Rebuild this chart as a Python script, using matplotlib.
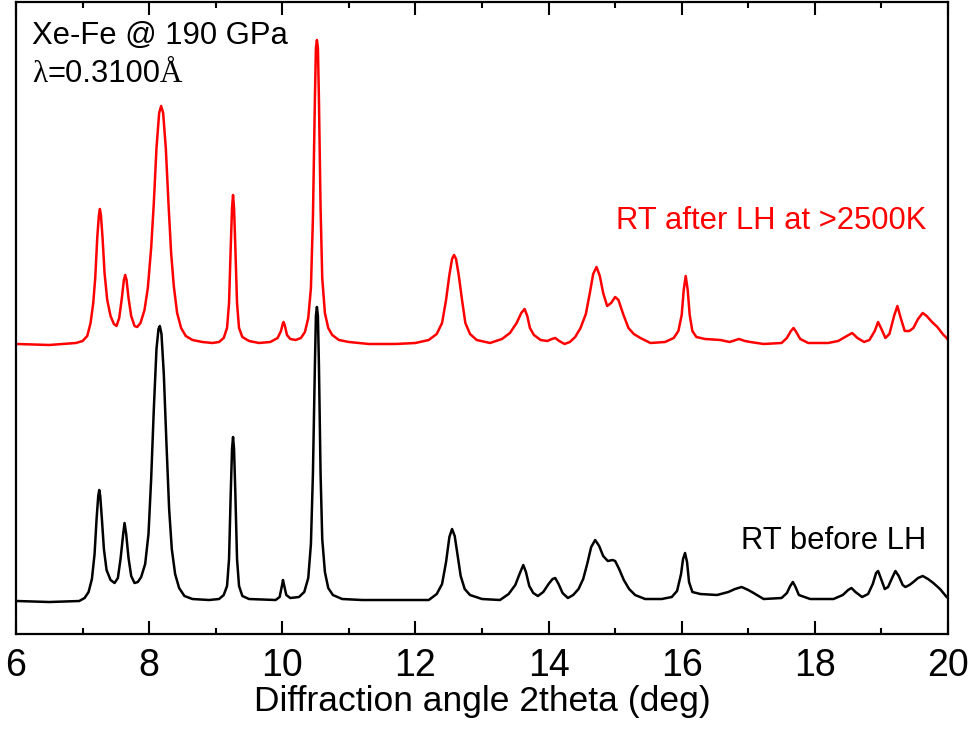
import numpy as np
import matplotlib.pyplot as plt
from matplotlib.ticker import MultipleLocator

# Diffraction patterns, Xe-Fe at 190 GPa (intensity in arbitrary units)
tth_before = [6.015, 6.5, 6.95, 7.03, 7.09, 7.14, 7.18, 7.21, 7.235, 7.25, 7.265, 7.29, 7.32,
              7.36, 7.42, 7.48, 7.53, 7.57, 7.61, 7.63, 7.655, 7.69, 7.73, 7.78, 7.83, 7.88,
              7.94, 7.99, 8.03, 8.07, 8.11, 8.14, 8.16, 8.185, 8.22, 8.26, 8.30, 8.34, 8.39,
              8.45, 8.53, 8.65, 8.9, 9.05, 9.12, 9.17, 9.20, 9.225, 9.245, 9.26, 9.275, 9.295,
              9.32, 9.35, 9.40, 9.5, 9.9, 9.96, 10.0, 10.01, 10.03, 10.06, 10.12, 10.25, 10.33,
              10.39, 10.43, 10.46, 10.49, 10.505, 10.52, 10.535, 10.55, 10.575, 10.60, 10.64,
              10.69, 10.76, 10.9, 11.2, 12.2, 12.32, 12.40, 12.46, 12.51, 12.55, 12.59, 12.63,
              12.68, 12.74, 12.82, 13.0, 13.27, 13.40, 13.50, 13.57, 13.62, 13.66, 13.71, 13.77,
              13.84, 13.92, 14.00, 14.06, 14.10, 14.15, 14.21, 14.29, 14.37, 14.45, 14.52, 14.58,
              14.64, 14.70, 14.76, 14.82, 14.89, 14.96, 15.0, 15.06, 15.13, 15.21, 15.30, 15.45,
              15.7, 15.85, 15.93, 15.99, 16.02, 16.05, 16.08, 16.11, 16.16, 16.28, 16.53, 16.70,
              16.80, 16.90, 17.0, 17.08, 17.23, 17.5, 17.58, 17.63, 17.67, 17.71, 17.76, 17.93,
              18.28, 18.42, 18.50, 18.55, 18.61, 18.71, 18.80, 18.87, 18.92, 18.95, 18.99, 19.05,
              19.10, 19.16, 19.21, 19.26, 19.32, 19.36, 19.42, 19.48, 19.55, 19.62, 19.70, 19.78,
              19.88, 19.98, 20.0]
int_before = [33, 32, 33, 36, 42, 55, 80, 115, 138, 144, 138, 115, 85,
              64, 54, 51, 56, 75, 100, 111, 100, 76, 58, 51, 52, 57,
              70, 100, 155, 225, 285, 305, 308, 300, 260, 190, 125, 85, 60,
              46, 38, 35, 34, 35, 39, 48, 75, 140, 185, 197, 185, 140,
              75, 48, 38, 35, 34, 37, 50, 54, 48, 39, 36, 37, 42,
              56, 90, 160, 270, 318, 327, 318, 270, 160, 95, 62,
              46, 39, 35, 34, 34, 40, 50, 72, 97, 105, 98, 80,
              58, 45, 39, 35, 34, 40, 49, 61, 69, 62, 48, 41,
              38, 42, 50, 55, 56, 50, 41, 36, 39, 45, 55, 70,
              87, 94, 88, 78, 73, 74, 73, 65, 54, 45, 39, 35,
              35, 37, 43, 60, 75, 81, 72, 52, 42, 40, 39, 42,
              45, 47, 44, 41, 35, 36, 41, 48, 52, 47, 39, 35,
              35, 39, 44, 46, 42, 37, 40, 50, 61, 63, 56, 45,
              47, 56, 63, 58, 49, 47, 49, 52, 56, 58, 55, 51,
              45, 37, 36]

tth_after = [6.015, 6.5, 6.9, 7.0, 7.07, 7.12, 7.16, 7.19, 7.22, 7.245, 7.26, 7.275, 7.30,
             7.33, 7.37, 7.42, 7.47, 7.51, 7.55, 7.59, 7.62, 7.64, 7.66, 7.69, 7.73, 7.78,
             7.82, 7.87, 7.93, 7.98, 8.03, 8.07, 8.11, 8.15, 8.18, 8.21, 8.25, 8.29, 8.33,
             8.37, 8.42, 8.48, 8.55, 8.65, 8.8, 8.95, 9.05, 9.12, 9.17, 9.20, 9.225, 9.245,
             9.26, 9.275, 9.295, 9.32, 9.35, 9.40, 9.5, 9.65, 9.82, 9.93, 9.98, 10.01, 10.02,
             10.04, 10.07, 10.12, 10.2, 10.28, 10.34, 10.39, 10.43, 10.46, 10.49, 10.505,
             10.52, 10.535, 10.55, 10.575, 10.60, 10.64, 10.69, 10.75, 10.85, 11.0, 11.3,
             11.7, 12.0, 12.2, 12.32, 12.40, 12.46, 12.51, 12.55, 12.58, 12.61, 12.65, 12.70,
             12.75, 12.82, 12.92, 13.12, 13.3, 13.42, 13.52, 13.59, 13.64, 13.68, 13.72, 13.78,
             13.88, 13.98, 14.05, 14.10, 14.16, 14.24, 14.32, 14.40, 14.48, 14.56, 14.62, 14.67,
             14.72, 14.77, 14.82, 14.88, 14.94, 15.0, 15.05, 15.12, 15.20, 15.28, 15.38, 15.53,
             15.75, 15.88, 15.95, 16.00, 16.03, 16.06, 16.09, 16.12, 16.16, 16.22, 16.35, 16.58,
             16.72, 16.86, 16.95, 17.03, 17.23, 17.5, 17.58, 17.64, 17.68, 17.72, 17.78, 17.9,
             18.2, 18.35, 18.48, 18.56, 18.64, 18.74, 18.82, 18.90, 18.95, 19.0, 19.06, 19.12,
             19.19, 19.24, 19.29, 19.35, 19.42, 19.48, 19.55, 19.62, 19.68, 19.76, 19.84, 19.92,
             19.98, 20.0]
int_after = [34, 33, 35, 37, 42, 55, 75, 100, 140, 163, 169, 163, 140,
             105, 78, 62, 54, 52, 60, 80, 98, 103, 98, 80, 62, 52,
             51, 55, 68, 90, 130, 175, 230, 265, 272, 265, 230, 175, 125,
             92, 65, 50, 42, 38, 36, 35, 36, 40, 50, 75, 130, 170,
             183, 170, 130, 75, 50, 41, 37, 35, 36, 40, 47, 55, 56,
             52, 43, 39, 38, 40, 46, 60, 90, 160, 280, 330,
             338, 330, 280, 170, 100, 65, 50, 43, 38, 36, 34,
             34, 35, 38, 44, 55, 78, 103, 119, 123, 119, 103, 78,
             55, 44, 38, 35, 39, 45, 55, 65, 69, 62, 50, 43,
             38, 37, 39, 40, 37, 34, 36, 41, 50, 64, 85, 104,
             111, 102, 85, 72, 75, 81, 78, 64, 50, 44, 40, 35,
             36, 40, 47, 63, 88, 102, 88, 63, 47, 41, 39, 38,
             36, 39, 37, 36, 34, 35, 40, 47, 50, 46, 39, 35,
             35, 37, 42, 45, 40, 36, 38, 47, 56, 49, 40, 44,
             62, 72, 60, 47, 47, 50, 59, 65, 62, 56, 51, 44,
             40, 38]

offset_after = 256

plt.rcParams['font.family'] = ['Liberation Sans', 'DejaVu Sans']

fig = plt.figure(figsize=(9.71, 7.29), dpi=100)
ax = fig.add_axes([0.0165, 0.1303, 0.9598, 0.867])

ax.plot(tth_before, int_before, color='black', lw=1.8, solid_joinstyle='round')
ax.plot(tth_after, np.array(int_after) + offset_after, color='#ff0000', lw=1.8,
        solid_joinstyle='round')

ax.set_xlim(6, 20)
ax.set_ylim(0, 632)
ax.xaxis.set_major_locator(MultipleLocator(2))
ax.xaxis.set_minor_locator(MultipleLocator(1))
ax.tick_params(axis='x', which='both', direction='in', top=True, bottom=True,
               width=1.5, labelsize=27, pad=10)
ax.tick_params(axis='x', which='major', length=9.5)
ax.tick_params(axis='x', which='minor', length=4.5)
ax.set_yticks([])
for s in ax.spines.values():
    s.set_linewidth(1.6)

ax.set_xlabel('Diffraction angle 2theta (deg)', fontsize=25.5, labelpad=1)

# labels for each pattern
ax.text(0.9765, 0.641, 'RT after LH at >2500K', color='#ff0000', fontsize=22.3,
        ha='right', va='baseline', transform=ax.transAxes)
ax.text(0.9765, 0.134, 'RT before LH', color='black', fontsize=22.3,
        ha='right', va='baseline', transform=ax.transAxes)

ax.text(0.0172, 0.933, 'Xe-Fe @ 190 GPa', fontsize=22.3, ha='left', va='baseline',
        transform=ax.transAxes)

# wavelength line: greek letter and angstrom sign in a serif face
renderer = fig.canvas.get_renderer()
x0, y0 = 0.0172, 0.874
parts = [('λ', 'Liberation Serif'), ('=0.3100', 'Liberation Sans'), ('Å', 'Liberation Serif')]
for txt, fam in parts:
    t = ax.text(x0, y0, txt, fontsize=22.3, family=fam, ha='left', va='baseline',
                transform=ax.transAxes)
    bb = t.get_window_extent(renderer=renderer)
    x0 = ax.transAxes.inverted().transform((bb.x1, bb.y0))[0]

fig.savefig('out.png', dpi=100)
